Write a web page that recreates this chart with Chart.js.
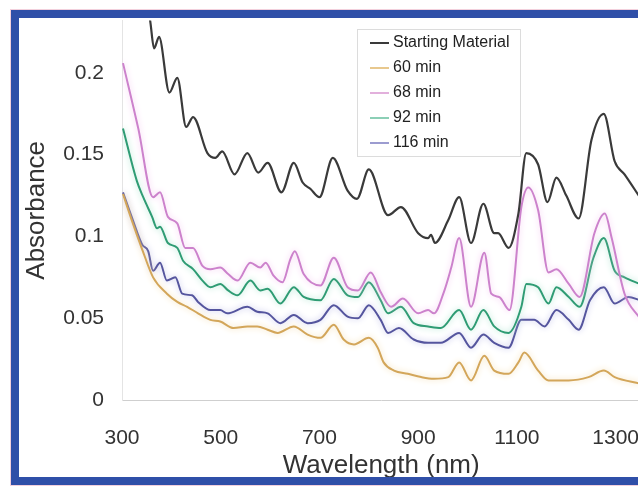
<!DOCTYPE html>
<html>
<head>
<meta charset="utf-8">
<script src="https://cdn.jsdelivr.net/npm/chart.js@4.4.1/dist/chart.umd.min.js"></script>
<style>
  html, body { margin: 0; padding: 0; background: #fff; overflow: hidden; }
  #wrap { position: relative; width: 638px; height: 486px; overflow: hidden; }
  #frame {
    position: absolute; left: 11px; top: 10px; width: 700px; height: 475px;
    box-sizing: border-box; border: 8px solid #2f4fa8;
    box-shadow: 0 0 0 1px #f2d0dc; pointer-events: none;
  }
  canvas { position: absolute; left: 0; top: -10px; }
</style>
</head>
<body>
<div id="wrap">
  <canvas id="chart" width="665" height="496"></canvas>
  <div id="frame"></div>
</div>
<script>
// [wavelength nm, absorbance]
const startingMaterial = [
  [300,0.33],[330,0.27],[357,0.232],[365,0.215],[375,0.222],[396,0.188],[412,0.197],[430,0.167],[444,0.173],[473,0.151],
  [489,0.148],[503,0.152],[528,0.138],[554,0.151],[576,0.139],[595,0.145],[623,0.127],[648,0.145],[666,0.133],[682,0.129],
  [700,0.124],[727,0.148],[757,0.128],[776,0.123],[800,0.141],[839,0.113],[865,0.118],[900,0.102],[920,0.099],[926,0.101],
  [934,0.096],[961,0.110],[983,0.124],[1007,0.096],[1032,0.120],[1054,0.102],[1062,0.102],[1083,0.093],[1103,0.114],[1119,0.151],
  [1143,0.144],[1162,0.121],[1180,0.136],[1200,0.125],[1225,0.111],[1251,0.159],[1276,0.175],[1298,0.146],[1318,0.138],[1349,0.124]
];
const min60 = [
  [302,0.126],[322,0.108],[341,0.092],[363,0.075],[391,0.065],[412,0.060],[432,0.057],[454,0.053],[479,0.049],[499,0.048],
  [526,0.044],[554,0.045],[574,0.045],[595,0.043],[615,0.041],[648,0.045],[676,0.040],[702,0.038],[729,0.046],[749,0.037],
  [770,0.034],[800,0.038],[818,0.032],[830,0.023],[851,0.018],[879,0.016],[906,0.014],[932,0.013],[961,0.014],[983,0.023],
  [1007,0.012],[1034,0.027],[1054,0.018],[1083,0.016],[1103,0.023],[1115,0.029],[1143,0.018],[1164,0.012],[1205,0.012],[1245,0.014],
  [1276,0.018],[1298,0.014],[1349,0.010]
];
const min68 = [
  [302,0.206],[333,0.166],[363,0.124],[377,0.127],[393,0.112],[412,0.108],[428,0.093],[444,0.093],[463,0.082],[479,0.080],
  [499,0.081],[515,0.077],[534,0.073],[560,0.084],[580,0.081],[591,0.084],[607,0.076],[625,0.072],[641,0.086],[650,0.091],
  [668,0.077],[702,0.070],[729,0.087],[757,0.069],[778,0.067],[804,0.078],[824,0.066],[845,0.057],[869,0.062],[900,0.053],
  [920,0.055],[932,0.053],[952,0.066],[967,0.081],[983,0.099],[1007,0.057],[1034,0.090],[1048,0.065],[1064,0.063],[1085,0.055],
  [1109,0.118],[1123,0.130],[1143,0.116],[1164,0.078],[1180,0.080],[1205,0.071],[1227,0.063],[1257,0.102],[1278,0.114],[1292,0.099],
  [1318,0.065],[1349,0.050]
];
const min92 = [
  [302,0.166],[330,0.134],[343,0.124],[361,0.112],[371,0.105],[377,0.106],[393,0.096],[412,0.093],[424,0.085],[444,0.080],
  [463,0.073],[479,0.069],[499,0.071],[515,0.067],[534,0.064],[560,0.073],[580,0.067],[595,0.068],[621,0.059],[648,0.069],
  [668,0.063],[702,0.061],[729,0.074],[757,0.064],[778,0.063],[800,0.072],[824,0.061],[839,0.053],[865,0.057],[891,0.047],
  [920,0.045],[946,0.044],[983,0.055],[1007,0.043],[1032,0.055],[1054,0.045],[1083,0.041],[1109,0.057],[1119,0.071],[1143,0.069],
  [1164,0.059],[1180,0.069],[1205,0.063],[1227,0.057],[1255,0.087],[1276,0.099],[1298,0.079],[1318,0.075],[1349,0.071]
];
const min116 = [
  [302,0.127],[322,0.110],[341,0.095],[353,0.091],[363,0.079],[377,0.084],[391,0.073],[408,0.075],[422,0.065],[442,0.064],
  [454,0.060],[479,0.055],[499,0.055],[513,0.053],[554,0.057],[574,0.054],[595,0.053],[621,0.047],[648,0.052],[676,0.047],
  [702,0.049],[729,0.058],[757,0.051],[778,0.050],[800,0.058],[824,0.049],[839,0.041],[861,0.044],[891,0.037],[920,0.035],
  [946,0.035],[983,0.041],[1007,0.032],[1032,0.040],[1054,0.035],[1083,0.032],[1109,0.049],[1135,0.049],[1156,0.045],[1180,0.055],
  [1205,0.049],[1225,0.043],[1248,0.061],[1276,0.069],[1298,0.059],[1326,0.063],[1349,0.061]
];
const xTicks = [300, 500, 700, 900, 1100, 1300];
const yTicks = [0, 0.05, 0.1, 0.15, 0.2];

const pts = (arr) => arr.map(([x, y]) => ({ x, y }));
const FONT = '"Liberation Sans", Arial, sans-serif';

const line = (label, data, color, glow, legendColor, width) => ({
  label, data: pts(data), borderColor: color, glow, legendColor,
  borderWidth: width || 2, pointRadius: 0, fill: false,
  cubicInterpolationMode: 'monotone'
});

// soft halo round the coloured traces, like the scanned figure
const glowPlugin = {
  id: 'glow',
  beforeDatasetDraw(chart, args) {
    const ds = chart.data.datasets[args.index];
    chart.ctx.save();
    if (ds.glow) { chart.ctx.shadowColor = ds.glow; chart.ctx.shadowBlur = 6; }
  },
  afterDatasetDraw(chart) { chart.ctx.restore(); }
};

// boxed legend inside the plot (canvas is shifted 10px up)
const boxLegend = {
  id: 'boxLegend',
  afterDraw(chart) {
    const ctx = chart.ctx;
    ctx.save();
    ctx.fillStyle = '#fff';
    ctx.strokeStyle = '#dcdcdc';
    ctx.lineWidth = 1;
    ctx.fillRect(357.5, 39.5, 163, 127);
    ctx.strokeRect(357.5, 39.5, 163, 127);
    ctx.font = '16px ' + FONT;
    ctx.textBaseline = 'middle';
    chart.data.datasets.forEach((ds, i) => {
      const y = 53 + i * 25;
      ctx.strokeStyle = ds.legendColor;
      ctx.lineWidth = 2;
      ctx.beginPath(); ctx.moveTo(370, y); ctx.lineTo(389, y); ctx.stroke();
      ctx.fillStyle = '#222';
      ctx.fillText(ds.label, 393, y);
    });
    ctx.restore();
  }
};

new Chart(document.getElementById('chart'), {
  type: 'line',
  data: {
    datasets: [
      line('Starting Material', startingMaterial, '#3a3a3a', null, '#3a3a3a', 2.2),
      line('60 min', min60, '#d3a65a', '#f2dcae', '#e8c88e'),
      line('68 min', min68, '#cc82cc', '#f3c6ef', '#e2b0dc'),
      line('92 min', min92, '#2f9c74', '#a8e2cc', '#8ccfb6'),
      line('116 min', min116, '#55559e', '#bcbce6', '#9c9cd0')
    ]
  },
  options: {
    responsive: false,
    animation: false,
    layout: { padding: { top: 9, right: 0, left: 0, bottom: 0 } },
    plugins: { legend: { display: false }, tooltip: { enabled: false } },
    scales: {
      x: {
        type: 'linear', min: 300, max: 1350,
        afterBuildTicks: (s) => { s.ticks = xTicks.map(v => ({ value: v })); },
        afterFit: (s) => { s.height = 86; },
        grid: { display: false, drawTicks: false },
        border: { display: true, color: '#cfcfcf', width: 1 },
        ticks: { padding: 26, color: '#333', font: { family: FONT, size: 21 },
                 callback: (v) => String(v) },
        title: { display: true, text: 'Wavelength (nm)', color: '#333',
                 font: { family: FONT, size: 26 }, padding: { top: 0, bottom: 5 } }
      },
      y: {
        min: 0, max: 0.232,
        afterBuildTicks: (s) => { s.ticks = yTicks.map(v => ({ value: v })); },
        afterFit: (s) => { s.width = 122; },
        grid: { display: false, drawTicks: false },
        border: { display: true, color: '#e4e4e4', width: 1 },
        ticks: { padding: 18, color: '#333', font: { family: FONT, size: 21 },
                 callback: (v) => String(+v.toFixed(2)) },
        title: { display: true, text: 'Absorbance', color: '#333',
                 font: { family: FONT, size: 26 }, padding: { top: 21, bottom: 0 } }
      }
    }
  },
  plugins: [glowPlugin, boxLegend]
});
</script>
</body>
</html>
